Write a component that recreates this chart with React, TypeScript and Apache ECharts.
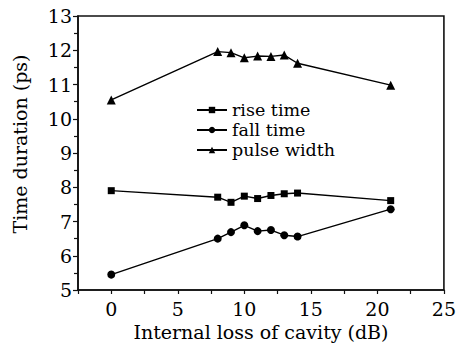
import React, { useEffect, useRef } from "react";
import * as echarts from "echarts";

const lossDb = [0, 8, 9, 10, 11, 12, 13, 14, 21];
const riseTime = [7.9, 7.71, 7.56, 7.74, 7.67, 7.76, 7.81, 7.83, 7.61];
const fallTime = [5.45, 6.5, 6.69, 6.89, 6.72, 6.75, 6.6, 6.56, 7.36];
const pulseWidth = [10.55, 11.96, 11.93, 11.78, 11.83, 11.82, 11.86, 11.62, 10.98];

const seriesNames = ["rise time", "fall time", "pulse width"];
const seriesSymbols = ["rect", "circle", "triangle"];
const seriesData = [riseTime, fallTime, pulseWidth];

const FONT = "'DejaVu Serif', 'Liberation Serif', serif";

export default function App() {
  const ref = useRef<HTMLDivElement>(null);
  useEffect(() => {
    if (!ref.current) return;
    const chart = echarts.init(ref.current, null, { renderer: "svg" });
    const symbolSizes = [7, 8, 9];
    chart.setOption({
      animation: false,
      backgroundColor: "#fff",
      textStyle: { fontFamily: FONT, color: "#000" },
      grid: {
        left: 78,
        top: 16,
        right: 14,
        bottom: 62,
        show: true,
        borderColor: "#111",
        borderWidth: 1.6,
      },
      legend: {
        orient: "vertical",
        left: 191,
        top: 96,
        itemWidth: 30,
        itemHeight: 8,
        itemGap: 2,
        textStyle: { fontFamily: FONT, fontSize: 17.5, color: "#000" },
        data: seriesNames,
      },
      graphic: [
        {
          type: "text",
          x: 20,
          y: 144,
          rotation: Math.PI / 2,
          style: {
            text: "Time duration (ps)",
            fontFamily: FONT,
            fontSize: 19,
            fill: "#000",
            align: "center",
            verticalAlign: "middle",
          },
        },
      ],
      xAxis: {
        type: "value",
        min: -2.5,
        max: 25,
        interval: 2.5,
        name: "Internal loss of cavity (dB)",
        nameLocation: "middle",
        nameGap: 28,
        nameTextStyle: { fontFamily: FONT, fontSize: 19, color: "#000" },
        axisLine: { show: true, onZero: false, lineStyle: { color: "#111", width: 1.6 } },
        axisTick: { show: true, inside: false, length: 4, lineStyle: { color: "#111", width: 1.2 } },
        axisLabel: {
          fontFamily: FONT,
          fontSize: 19,
          color: "#000",
          margin: 9,
          showMaxLabel: true,
          formatter: (v: number) => (Math.abs(v % 5) < 1e-9 && v >= 0 ? String(v) : ""),
        },
        splitLine: { show: false },
      },
      yAxis: {
        type: "value",
        min: 5,
        max: 13,
        interval: 1,
        axisLine: { show: true, onZero: false, lineStyle: { color: "#111", width: 1.6 } },
        axisTick: { show: true, inside: false, length: 5, lineStyle: { color: "#111", width: 1.2 } },
        minorTick: { show: true, splitNumber: 2, length: 4, lineStyle: { color: "#111", width: 1.2 } },
        axisLabel: { fontFamily: FONT, fontSize: 19, color: "#000", margin: 6 },
        splitLine: { show: false },
      },
      series: seriesNames.map((name, i) => ({
        name,
        type: "line",
        data: lossDb.map((x, j) => [x, seriesData[i][j]]),
        symbol: seriesSymbols[i],
        symbolSize: symbolSizes[i],
        showSymbol: true,
        lineStyle: { color: "#000", width: 1.4 },
        itemStyle: { color: "#000" },
        color: "#000",
      })),
    });
    return () => chart.dispose();
  }, []);
  return (
    <div
      ref={ref}
      style={{ width: 459, height: 352, position: "fixed", left: 0, top: 0 }}
    />
  );
}
